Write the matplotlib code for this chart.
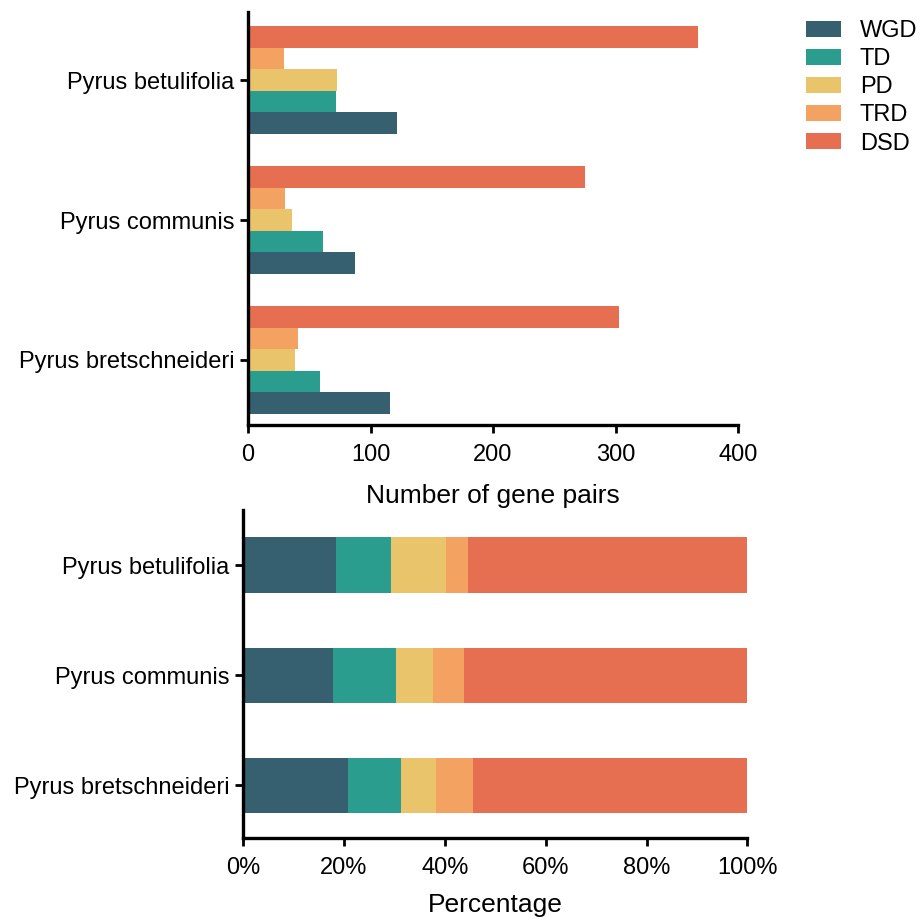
import matplotlib
matplotlib.use("Agg")
import matplotlib.pyplot as plt
import numpy as np
from matplotlib.ticker import PercentFormatter

plt.rcParams['font.family'] = ['Liberation Sans', 'DejaVu Sans']
plt.rcParams['font.size'] = 17

# Data
species = ["Pyrus bretschneideri", "Pyrus communis", "Pyrus betulifolia"]
types = ["WGD", "TD", "PD", "TRD", "DSD"]
colors = ["#365f6f", "#2a9d8f", "#e9c46a", "#f4a261", "#e76f51"]
wgd = [116, 87, 122]
td = [59, 61, 72]
pd_ = [38, 36, 73]
trd = [41, 30, 29]
dsd = [303, 275, 367]

counts = np.array([wgd, td, pd_, trd, dsd], dtype=float)
pct = counts / counts.sum(axis=0) * 100

fig = plt.figure(figsize=(9.22, 9.19), dpi=100)
ax1 = fig.add_axes([0.269, 0.5375, 0.5315, 0.4494])
ax2 = fig.add_axes([0.2636, 0.0881, 0.547, 0.357])

y = np.arange(len(species))
h = 0.154

# Top: grouped horizontal bars
for i, t in enumerate(types):
    ax1.barh(y + (i - 2) * h, counts[i], height=h, color=colors[i], label=t)
ax1.set_xlim(0, 400)
ax1.set_ylim(-0.465, 2.486)
ax1.set_xticks([0, 100, 200, 300, 400])
ax1.set_yticks(y)
ax1.set_yticklabels(species)
ax1.set_xlabel("Number of gene pairs", fontsize=19, labelpad=13)

# Bottom: stacked percentage bars
left = np.zeros(len(species))
for i, t in enumerate(types):
    ax2.barh(y, pct[i], left=left, height=0.5, color=colors[i])
    left += pct[i]
ax2.set_xlim(0, 100)
ax2.set_ylim(-0.48, 2.5)
ax2.set_xticks([0, 20, 40, 60, 80, 100])
ax2.xaxis.set_major_formatter(PercentFormatter(xmax=100, decimals=0))
ax2.set_yticks(y)
ax2.set_yticklabels(species)
ax2.set_xlabel("Percentage", fontsize=19, labelpad=10)

for ax in (ax1, ax2):
    for s in ("top", "right"):
        ax.spines[s].set_visible(False)
    for s in ("left", "bottom"):
        ax.spines[s].set_linewidth(2.4)
    ax.tick_params(width=2, length=6)
    ax.tick_params(axis="x", pad=7.5)
    ax.tick_params(axis="y", pad=4)

fig.legend(loc="upper left", bbox_to_anchor=(806 / 922, 1 - 20 / 919),
           frameon=False, borderaxespad=0, borderpad=0,
           handlelength=1.48, handleheight=0.64, handletextpad=0.8,
           labelspacing=0.26)

fig.savefig("out.png", dpi=100)
